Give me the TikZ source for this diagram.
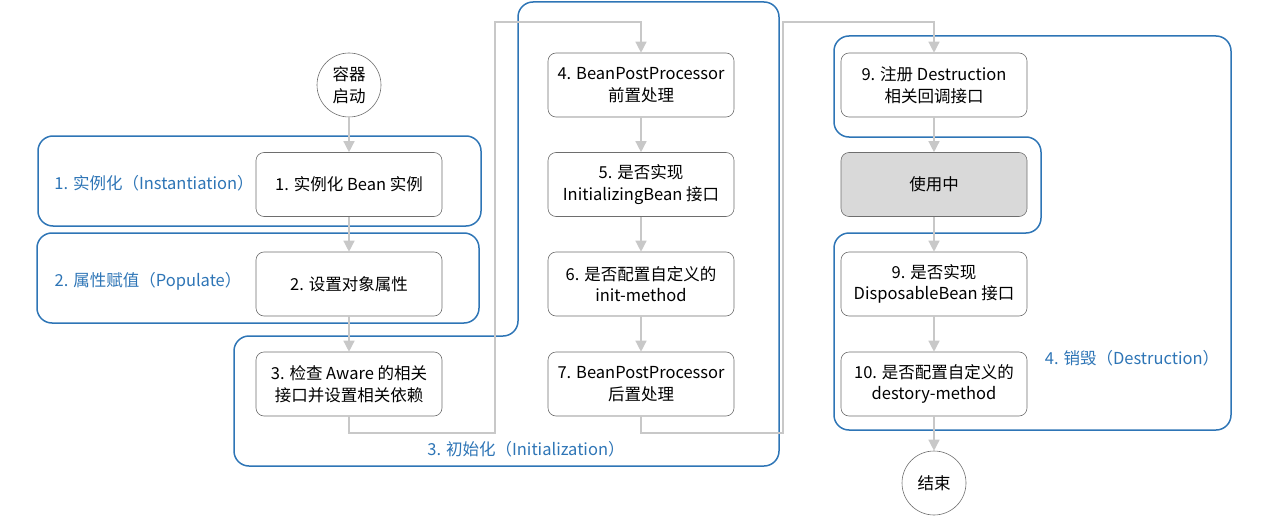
\documentclass[tikz,border=0pt]{standalone}
\usepackage{fontspec}
\setmainfont{Noto Sans CJK SC}
\usetikzlibrary{arrows.meta}
\definecolor{grpblue}{RGB}{46,117,182}
\definecolor{conngray}{RGB}{200,200,200}
\definecolor{boxborder}{RGB}{110,110,110}
\definecolor{usefill}{RGB}{217,217,217}
\tikzset{
  stepbox/.style={draw=boxborder, line width=0.6pt, fill=white, rounded corners=8pt,
    minimum width=186pt, minimum height=64pt, align=center, inner sep=2pt,
    font=\fontsize{16.5}{21.5}\selectfont},
  circnode/.style={circle, draw=boxborder, line width=0.6pt, fill=white, minimum size=64pt,
    align=center, inner sep=0pt, font=\fontsize{16.5}{21.5}\selectfont},
  grp/.style={draw=grpblue, line width=1.5pt, rounded corners=15pt},
  glabel/.style={text=grpblue, font=\fontsize{16.5}{21.5}\selectfont, inner sep=0pt},
  conn/.style={draw=conngray, line width=1.4pt, -{Triangle[length=11pt,width=11pt]}},
}
\begin{document}
\begin{tikzpicture}[x=1pt,y=-1pt]
\useasboundingbox (0,0) rectangle (1268,516);
% groups
\draw[grp] (38,136) rectangle (481,226);
\draw[grp] (37,233) rectangle (479,323);
\draw[grp] (234,336) -- (518,336) -- (518,2) -- (779,2) -- (779,466) -- (234,466) -- cycle;
\draw[grp] (834,36) -- (1231,36) -- (1231,430) -- (834,430) -- (834,233) -- (1041,233) -- (1041,137) -- (834,137) -- cycle;
% group labels
\node[glabel] (l1) at (154,183) {1. 实例化（Instantiation）};
\node[glabel] (l2) at (148,281) {2. 属性赋值（Populate）};
\node[glabel] (l3) at (526,449) {3. 初始化（Initialization）};
\node[glabel] (l4) at (1132,358) {4. 销毁（Destruction）};
% nodes
\node[circnode] (start) at (349,85) {容器\\启动};
\node[stepbox] (b1) at (349,184.5) {1. 实例化 Bean 实例};
\node[stepbox] (b2) at (349,284) {2. 设置对象属性};
\node[stepbox] (b3) at (349,384) {3. 检查 Aware 的相关\\接口并设置相关依赖};
\node[stepbox] (b4) at (641,85) {4. BeanPostProcessor\\前置处理};
\node[stepbox] (b5) at (641,184.5) {5. 是否实现\\InitializingBean 接口};
\node[stepbox] (b6) at (641,284) {6. 是否配置自定义的\\init-method};
\node[stepbox] (b7) at (641,384) {7. BeanPostProcessor\\后置处理};
\node[stepbox] (b9r) at (934,85) {9. 注册 Destruction\\相关回调接口};
\node[stepbox, fill=usefill] (use) at (934,184.5) {使用中};
\node[stepbox] (b9d) at (934,284) {9. 是否实现\\DisposableBean 接口};
\node[stepbox] (b10) at (934,384) {10. 是否配置自定义的\\destory-method};
\node[circnode] (end) at (934,483) {结束};
% junctions
\coordinate (j1) at (495,433);
\coordinate (j2) at (495,22);
\coordinate (j3) at (783,433);
\coordinate (j4) at (783,22);
% connectors
\draw[conn] (start) -- (b1);
\draw[conn] (b1) -- (b2);
\draw[conn] (b2) -- (b3);
\draw[conn] (b3.south) |- (j1) -- (j2) -| (b4.north);
\draw[conn] (b4) -- (b5);
\draw[conn] (b5) -- (b6);
\draw[conn] (b6) -- (b7);
\draw[conn] (b7.south) |- (j3) -- (j4) -| (b9r.north);
\draw[conn] (b9r) -- (use);
\draw[conn] (use) -- (b9d);
\draw[conn] (b9d) -- (b10);
\draw[conn] (b10) -- (end);
\end{tikzpicture}
\end{document}
